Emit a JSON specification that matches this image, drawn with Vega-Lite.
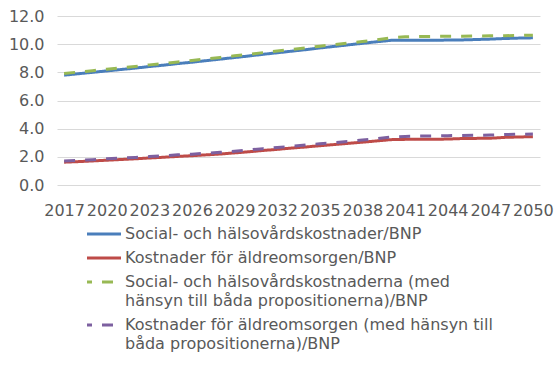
{
  "$schema": "https://vega.github.io/schema/vega-lite/v6.json",
  "autosize": "none",
  "width": 483,
  "height": 169,
  "padding": {"left": 57, "top": 16, "right": 18, "bottom": 180},
  "background": "white",
  "config": {
    "view": {"stroke": null},
    "font": "DejaVu Sans"
  },
  "data": {
    "values": [
      {"year": "2017", "a": 7.80, "b": 1.62, "c": 7.92, "d": 1.71},
      {"year": "2018", "a": 7.90, "b": 1.66, "c": 8.02, "d": 1.75},
      {"year": "2019", "a": 8.00, "b": 1.71, "c": 8.12, "d": 1.80},
      {"year": "2020", "a": 8.10, "b": 1.76, "c": 8.22, "d": 1.86},
      {"year": "2021", "a": 8.20, "b": 1.81, "c": 8.32, "d": 1.91},
      {"year": "2022", "a": 8.30, "b": 1.86, "c": 8.42, "d": 1.96},
      {"year": "2023", "a": 8.41, "b": 1.92, "c": 8.53, "d": 2.02},
      {"year": "2024", "a": 8.51, "b": 1.97, "c": 8.63, "d": 2.08},
      {"year": "2025", "a": 8.62, "b": 2.03, "c": 8.74, "d": 2.14},
      {"year": "2026", "a": 8.72, "b": 2.08, "c": 8.84, "d": 2.19},
      {"year": "2027", "a": 8.83, "b": 2.14, "c": 8.95, "d": 2.26},
      {"year": "2028", "a": 8.94, "b": 2.20, "c": 9.06, "d": 2.32},
      {"year": "2029", "a": 9.05, "b": 2.28, "c": 9.17, "d": 2.40},
      {"year": "2030", "a": 9.16, "b": 2.36, "c": 9.28, "d": 2.49},
      {"year": "2031", "a": 9.28, "b": 2.45, "c": 9.40, "d": 2.58},
      {"year": "2032", "a": 9.39, "b": 2.53, "c": 9.51, "d": 2.66},
      {"year": "2033", "a": 9.50, "b": 2.62, "c": 9.62, "d": 2.75},
      {"year": "2034", "a": 9.61, "b": 2.70, "c": 9.74, "d": 2.84},
      {"year": "2035", "a": 9.73, "b": 2.79, "c": 9.86, "d": 2.93},
      {"year": "2036", "a": 9.84, "b": 2.87, "c": 9.97, "d": 3.01},
      {"year": "2037", "a": 9.95, "b": 2.96, "c": 10.08, "d": 3.10},
      {"year": "2038", "a": 10.06, "b": 3.04, "c": 10.19, "d": 3.19},
      {"year": "2039", "a": 10.17, "b": 3.13, "c": 10.30, "d": 3.28},
      {"year": "2040", "a": 10.27, "b": 3.22, "c": 10.45, "d": 3.40},
      {"year": "2041", "a": 10.28, "b": 3.24, "c": 10.52, "d": 3.45},
      {"year": "2042", "a": 10.28, "b": 3.24, "c": 10.54, "d": 3.47},
      {"year": "2043", "a": 10.28, "b": 3.25, "c": 10.55, "d": 3.48},
      {"year": "2044", "a": 10.29, "b": 3.26, "c": 10.56, "d": 3.50},
      {"year": "2045", "a": 10.30, "b": 3.30, "c": 10.57, "d": 3.52},
      {"year": "2046", "a": 10.33, "b": 3.31, "c": 10.58, "d": 3.53},
      {"year": "2047", "a": 10.36, "b": 3.32, "c": 10.59, "d": 3.55},
      {"year": "2048", "a": 10.40, "b": 3.38, "c": 10.60, "d": 3.58},
      {"year": "2049", "a": 10.43, "b": 3.41, "c": 10.62, "d": 3.60},
      {"year": "2050", "a": 10.45, "b": 3.43, "c": 10.64, "d": 3.62}
    ]
  },
  "transform": [{"fold": ["a", "b", "c", "d"], "as": ["series", "value"]}],
  "mark": {"type": "line", "strokeWidth": 3, "strokeCap": "butt"},
  "encoding": {
    "x": {
      "field": "year",
      "type": "ordinal",
      "sort": null,
      "scale": {"type": "point", "padding": 0.5},
      "axis": {
        "title": null,
        "values": ["2017", "2020", "2023", "2026", "2029", "2032", "2035", "2038", "2041", "2044", "2047", "2050"],
        "labelAngle": 0,
        "labelOverlap": false,
        "labelFontSize": 16,
        "labelColor": "#595959",
        "labelFont": "DejaVu Sans",
        "labelPadding": 17,
        "ticks": false,
        "tickSize": 0,
        "domain": false,
        "grid": false
      }
    },
    "y": {
      "field": "value",
      "type": "quantitative",
      "scale": {"domain": [0, 12], "nice": false},
      "axis": {
        "title": null,
        "values": [0, 2, 4, 6, 8, 10, 12],
        "format": ".1f",
        "labelFontSize": 16,
        "labelColor": "#595959",
        "labelFont": "DejaVu Sans",
        "labelPadding": 13,
        "ticks": false,
        "tickSize": 0,
        "domain": false,
        "grid": true,
        "gridColor": "#d9d9d9",
        "gridWidth": 1
      }
    },
    "color": {
      "field": "series",
      "type": "nominal",
      "scale": {"domain": ["a", "b", "c", "d"], "range": ["#4a7ebb", "#be4b48", "#98b954", "#7d60a0"]},
      "legend": {
        "title": null,
        "orient": "none",
        "legendX": 39,
        "legendY": 210,
        "direction": "vertical",
        "symbolType": "M-3.4,0H3.4",
        "symbolSize": 100,
        "symbolStrokeWidth": 3,
        "labelFontSize": 16,
        "labelFont": "DejaVu Sans",
        "labelColor": "#595959",
        "labelLimit": 600,
        "labelOffset": 13,
        "rowPadding": 8,
        "encode": {
          "labels": {"enter": {"lineHeight": {"value": 19}}, "update": {"lineHeight": {"value": 19}}},
          "symbols": {"update": {"strokeDashOffset": {"value": 6}}}
        },
        "labelExpr": "datum.value == 'a' ? 'Social- och hälsovårdskostnader/BNP' : datum.value == 'b' ? 'Kostnader för äldreomsorgen/BNP' : datum.value == 'c' ? ['Social- och hälsovårdskostnaderna (med', 'hänsyn till båda propositionerna)/BNP'] : ['Kostnader för äldreomsorgen (med hänsyn till', 'båda propositionerna)/BNP']"
      }
    },
    "strokeDash": {
      "field": "series",
      "type": "nominal",
      "scale": {"domain": ["a", "b", "c", "d"], "range": [[1, 0], [1, 0], [11, 10], [11, 10]]},
      "legend": null
    }
  }
}
